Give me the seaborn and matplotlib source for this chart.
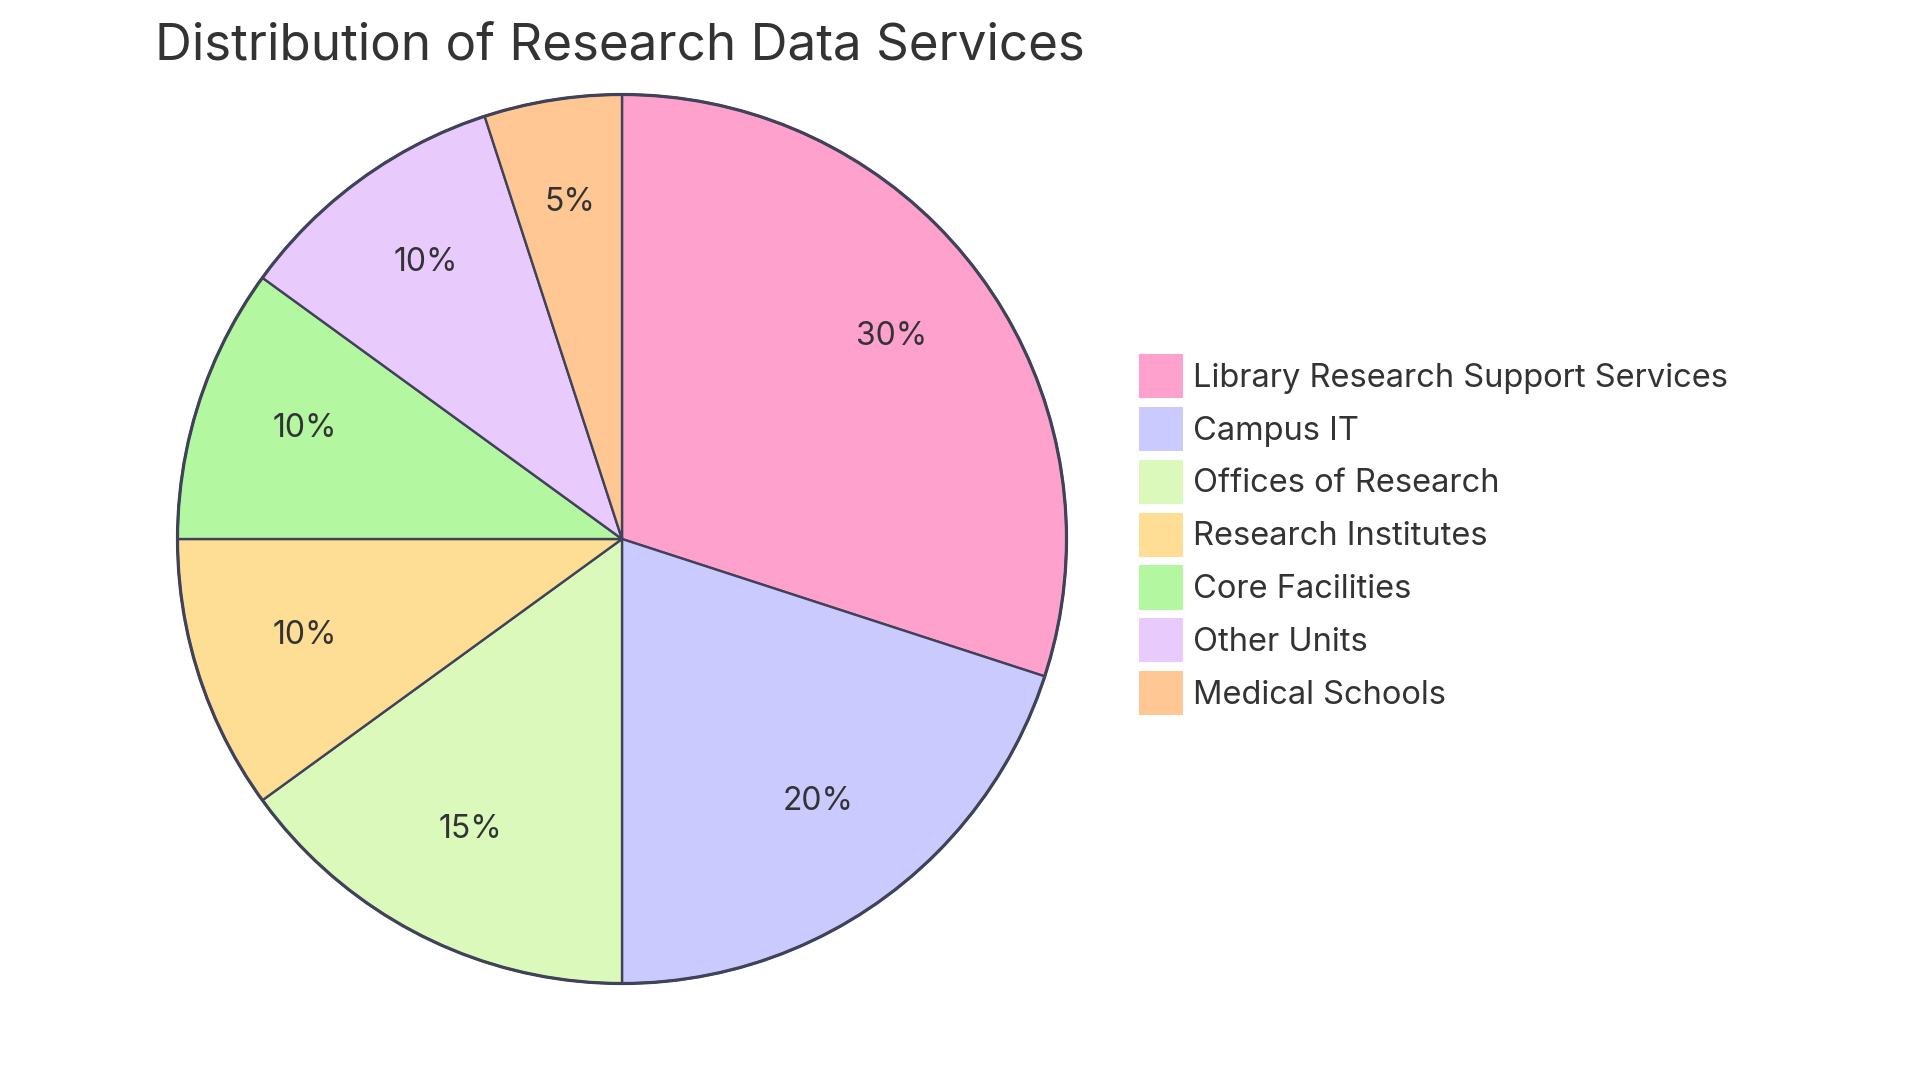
import matplotlib
matplotlib.use("Agg")
import matplotlib.pyplot as plt
from matplotlib.patches import Patch
from matplotlib.transforms import ScaledTranslation
import seaborn as sns

categories = ["Library Research Support Services", "Campus IT", "Offices of Research",
              "Research Institutes", "Core Facilities", "Other Units", "Medical Schools"]
values = [30, 20, 15, 10, 10, 10, 5]
colors = ["#FFA1CD", "#CACAFE", "#DCF9BC", "#FEDE94", "#B3F7A0", "#E8CAFC", "#FEC794"]
title = "Distribution of Research Data Services"

sns.set_theme(style="white")
plt.rcParams['font.family'] = ['Inter', 'DejaVu Sans']
text_color = "#333333"
edge = "#40425A"

W, H = 1920, 1080
fig = plt.figure(figsize=(19.2, 10.8), dpi=100)
cx, cy, R = 622, 539, 444.5
lim = 1.02
half = R * lim
ax = fig.add_axes([(cx - half) / W, (H - cy - half) / H, 2 * half / W, 2 * half / H])

wedges, texts, autotexts = ax.pie(
    values, colors=colors, startangle=90, counterclock=False,
    autopct=lambda p: f"{p:.0f}%", pctdistance=0.75, radius=1,
    wedgeprops=dict(edgecolor=edge, linewidth=1.7),
    textprops=dict(fontsize=23, color=text_color))
shift = ScaledTranslation(0, 7 / 100, fig.dpi_scale_trans)
for t in autotexts:
    t.set_transform(ax.transData + shift)
outer = plt.Circle((0, 0), 1, fill=False, edgecolor=edge, linewidth=2.3)
ax.add_patch(outer)
ax.set_xlim(-lim, lim)
ax.set_ylim(-lim, lim)
ax.axis("off")

fig.text(155 / W, 1 - 60 / H, title, fontsize=36.8, color=text_color,
         ha="left", va="baseline")

handles = [Patch(facecolor=c, edgecolor="none") for c in colors]
fig.legend(handles, categories, loc="upper left",
           bbox_to_anchor=(1139 / W, 1 - 354 / H), frameon=False,
           fontsize=23.5, handlelength=1.35, handleheight=1.70,
           handletextpad=0.3, labelspacing=0.27, borderpad=0, borderaxespad=0,
           labelcolor=text_color)

fig.savefig("out.png", dpi=100, facecolor="white")
